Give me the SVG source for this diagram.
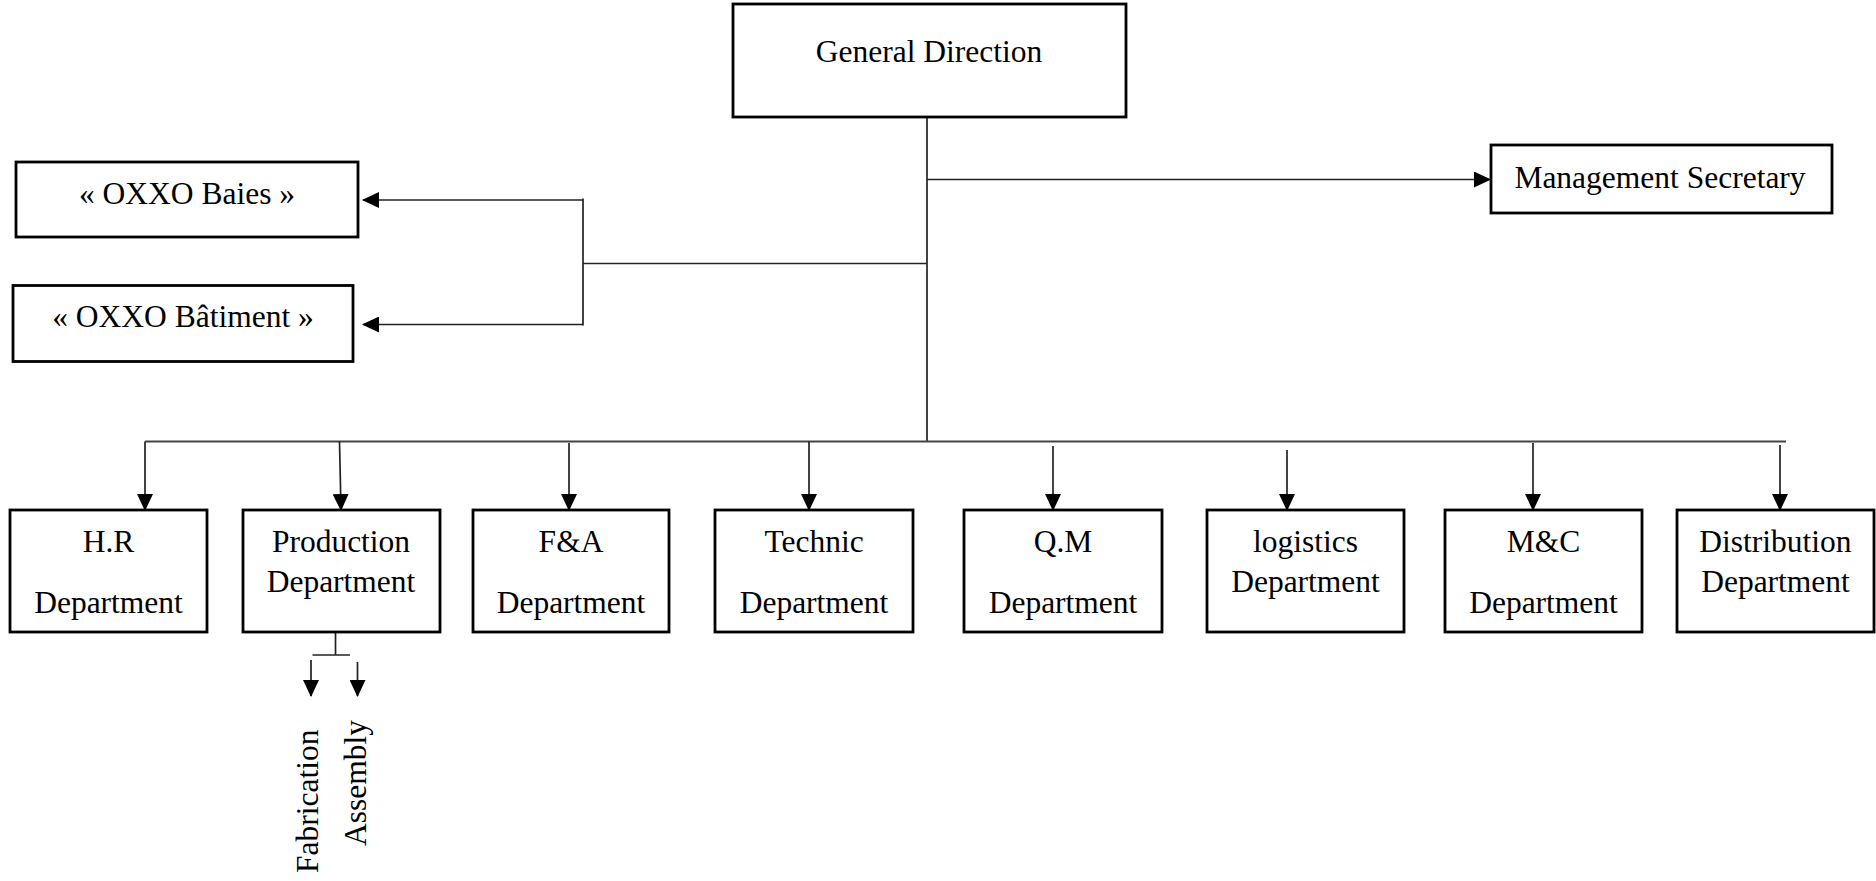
<svg xmlns="http://www.w3.org/2000/svg" width="1876" height="881" viewBox="0 0 1876 881">
  <style>
    .box { fill: #ffffff; stroke: #000000; stroke-width: 2.8; }
    .lbl { font-family: "Liberation Serif", "Times New Roman", serif; font-size: 31.5px; fill: #000000; text-anchor: middle; }
    .side { font-family: "Liberation Serif", "Times New Roman", serif; font-size: 31.5px; fill: #000000; }
    .wire { fill: none; stroke: #222222; stroke-width: 1.7; }
    .bus { fill: none; stroke: #444444; stroke-width: 2; }
  </style>
  <defs>
    <marker id="arrow" markerUnits="userSpaceOnUse" markerWidth="17" markerHeight="16" refX="16" refY="8" orient="auto">
      <path d="M0,0 L17,8 L0,16 Z" fill="#000000"/>
    </marker>
  </defs>
  <rect width="1876" height="881" fill="#ffffff"/>

  <!-- connectors -->
  <g id="connectors">
    <path class="wire" d="M927,117 V441.5"/>
    <path class="wire" d="M927,179.5 H1490" marker-end="url(#arrow)"/>
    <path class="wire" d="M927,263.5 H583"/>
    <path class="wire" d="M583,198.5 V325.5"/>
    <path class="wire" d="M583,200 H363" marker-end="url(#arrow)"/>
    <path class="wire" d="M583,324.5 H363" marker-end="url(#arrow)"/>
    <path class="bus" d="M145,441.5 H1786"/>
    <path class="wire" d="M145,441.5 V510" marker-end="url(#arrow)"/>
    <path class="wire" d="M339.5,441.5 L341,510" marker-end="url(#arrow)"/>
    <path class="wire" d="M569,443 V510" marker-end="url(#arrow)"/>
    <path class="wire" d="M809,441.5 V510" marker-end="url(#arrow)"/>
    <path class="wire" d="M1053,446 V510" marker-end="url(#arrow)"/>
    <path class="wire" d="M1287,450 V510" marker-end="url(#arrow)"/>
    <path class="wire" d="M1533,443 V510" marker-end="url(#arrow)"/>
    <path class="wire" d="M1780,445 V510" marker-end="url(#arrow)"/>
    <path class="wire" d="M335.5,632 V655"/>
    <path class="wire" d="M312.5,655 H350"/>
    <path class="wire" d="M311,660 V696" marker-end="url(#arrow)"/>
    <path class="wire" d="M357.5,662 V696" marker-end="url(#arrow)"/>
  </g>

  <!-- top level -->
  <g id="general-direction">
    <rect class="box" x="733" y="4" width="393" height="113"/>
    <text class="lbl" x="929" y="62">General Direction</text>
  </g>
  <g id="management-secretary">
    <rect class="box" x="1491" y="145" width="341" height="68"/>
    <text class="lbl" x="1660" y="188">Management Secretary</text>
  </g>
  <g id="oxxo-baies">
    <rect class="box" x="16" y="162" width="342" height="75"/>
    <text class="lbl" x="187" y="203.5">« OXXO Baies »</text>
  </g>
  <g id="oxxo-batiment">
    <rect class="box" x="13" y="285.5" width="340" height="76"/>
    <text class="lbl" x="183" y="327">« OXXO Bâtiment »</text>
  </g>

  <!-- departments -->
  <g id="hr-department">
    <rect class="box" x="10" y="510" width="197" height="122"/>
    <text class="lbl" x="108.5" y="552">H.R</text>
    <text class="lbl" x="108.5" y="613">Department</text>
  </g>
  <g id="production-department">
    <rect class="box" x="243" y="510" width="197" height="122"/>
    <text class="lbl" x="341" y="552">Production</text>
    <text class="lbl" x="341" y="592">Department</text>
  </g>
  <g id="fa-department">
    <rect class="box" x="473" y="510" width="196" height="122"/>
    <text class="lbl" x="571" y="552">F&amp;A</text>
    <text class="lbl" x="571" y="613">Department</text>
  </g>
  <g id="technic-department">
    <rect class="box" x="715" y="510" width="198" height="122"/>
    <text class="lbl" x="814" y="552">Technic</text>
    <text class="lbl" x="814" y="613">Department</text>
  </g>
  <g id="qm-department">
    <rect class="box" x="964" y="510" width="198" height="122"/>
    <text class="lbl" x="1063" y="552">Q.M</text>
    <text class="lbl" x="1063" y="613">Department</text>
  </g>
  <g id="logistics-department">
    <rect class="box" x="1207" y="510" width="197" height="122"/>
    <text class="lbl" x="1305.5" y="552">logistics</text>
    <text class="lbl" x="1305.5" y="592">Department</text>
  </g>
  <g id="mc-department">
    <rect class="box" x="1445" y="510" width="197" height="122"/>
    <text class="lbl" x="1543.5" y="552">M&amp;C</text>
    <text class="lbl" x="1543.5" y="613">Department</text>
  </g>
  <g id="distribution-department">
    <rect class="box" x="1677" y="510" width="197" height="122"/>
    <text class="lbl" x="1775.5" y="552">Distribution</text>
    <text class="lbl" x="1775.5" y="592">Department</text>
  </g>

  <!-- production sub-units -->
  <g id="fabrication">
    <text class="side" transform="translate(318,873) rotate(-90)">Fabrication</text>
  </g>
  <g id="assembly">
    <text class="side" transform="translate(365.5,846) rotate(-90)">Assembly</text>
  </g>
</svg>
